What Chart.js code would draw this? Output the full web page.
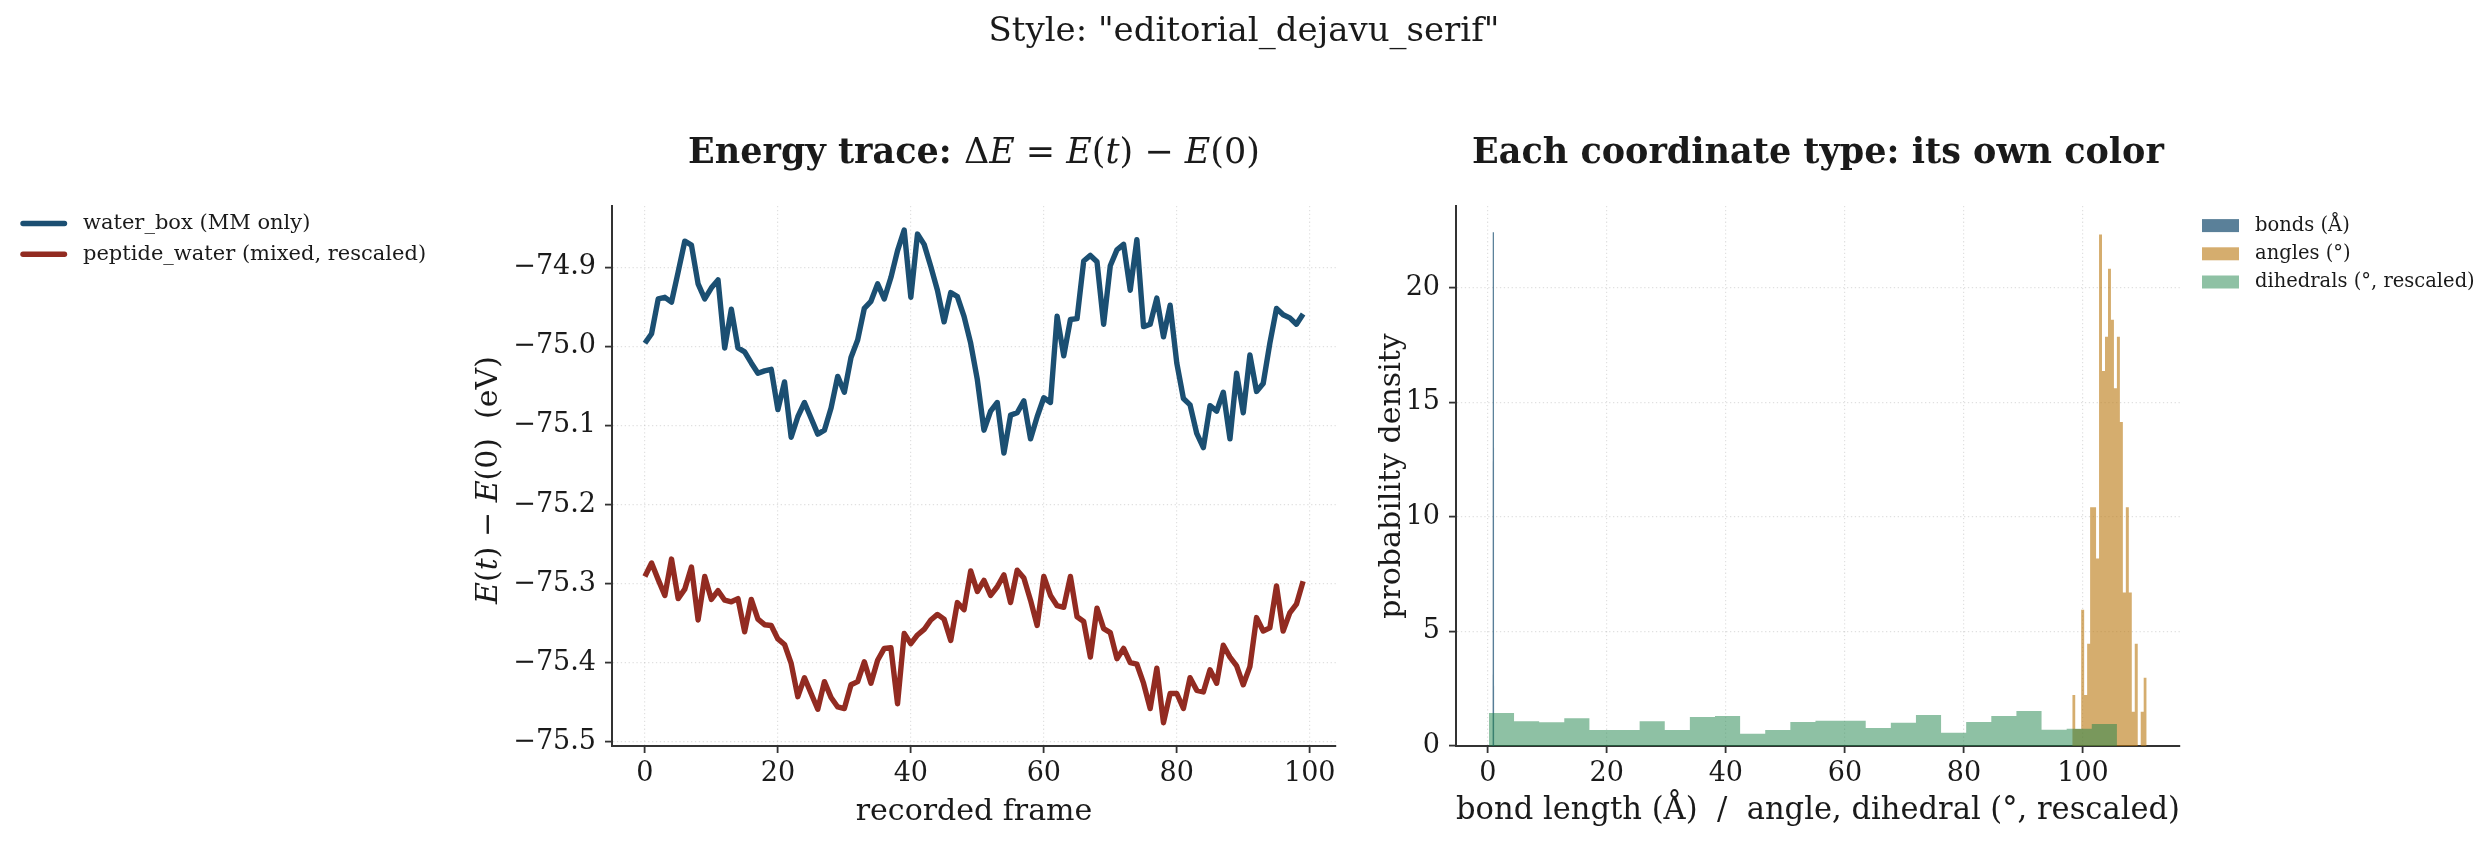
<!DOCTYPE html>
<html>
<head>
<meta charset="utf-8">
<title>editorial_dejavu_serif</title>
<script src="https://cdn.jsdelivr.net/npm/chart.js"></script>
<style>
    html, body { margin: 0; padding: 0; background: #fff; }
    #page { position: relative; width: 2488px; height: 848px; overflow: hidden; }
    #page canvas { position: absolute; left: 0; top: 0; }
    #suptitle {
        position: absolute; left: 0; top: 8px; width: 2488px; text-align: center;
        font: 34px 'DejaVu Serif', serif; line-height: 42px; color: #1a1a1a;
    }
</style>
</head>
<body>
<div id="page">
    <canvas id="energyChart" width="2488" height="848"></canvas>
    <canvas id="histChart" width="2488" height="848"></canvas>
    <div id="suptitle">Style: "editorial_dejavu_serif"</div>
</div>
<script>
// ---- data ----
const frames = Array.from({ length: 100 }, (_, i) => i);

const waterBox = [
    -74.996, -74.984, -74.940, -74.938, -74.944, -74.906, -74.867, -74.872, -74.921, -74.940,
    -74.926, -74.916, -75.002, -74.953, -75.002, -75.007, -75.021, -75.034, -75.031, -75.029,
    -75.080, -75.045, -75.115, -75.089, -75.071, -75.091, -75.111, -75.106, -75.078, -75.038,
    -75.058, -75.014, -74.992, -74.952, -74.943, -74.921, -74.940, -74.913, -74.879, -74.853,
    -74.938, -74.858, -74.871, -74.899, -74.929, -74.969, -74.932, -74.937, -74.962, -74.996,
    -75.042, -75.106, -75.082, -75.071, -75.135, -75.087, -75.084, -75.069, -75.117, -75.089,
    -75.065, -75.071, -74.962, -75.012, -74.966, -74.965, -74.892, -74.885, -74.893, -74.972,
    -74.898, -74.878, -74.871, -74.929, -74.865, -74.975, -74.972, -74.939, -74.988, -74.948,
    -75.021, -75.066, -75.074, -75.110, -75.128, -75.075, -75.082, -75.058, -75.117, -75.034,
    -75.084, -75.011, -75.057, -75.047, -74.996, -74.952, -74.960, -74.964, -74.972, -74.959
];

const peptideWater = [
    -75.291, -75.274, -75.295, -75.315, -75.269, -75.319, -75.307, -75.279, -75.346, -75.291,
    -75.320, -75.309, -75.321, -75.323, -75.319, -75.361, -75.320, -75.345, -75.352, -75.353,
    -75.370, -75.377, -75.401, -75.443, -75.419, -75.439, -75.459, -75.424, -75.444, -75.456,
    -75.458, -75.428, -75.424, -75.399, -75.426, -75.397, -75.382, -75.381, -75.452, -75.363,
    -75.376, -75.365, -75.358, -75.346, -75.339, -75.345, -75.372, -75.324, -75.333, -75.284,
    -75.310, -75.296, -75.315, -75.304, -75.289, -75.324, -75.283, -75.293, -75.321, -75.353,
    -75.291, -75.315, -75.328, -75.330, -75.291, -75.342, -75.348, -75.393, -75.331, -75.357,
    -75.362, -75.395, -75.382, -75.400, -75.402, -75.426, -75.458, -75.407, -75.476, -75.439,
    -75.439, -75.458, -75.419, -75.435, -75.437, -75.409, -75.426, -75.378, -75.393, -75.404,
    -75.428, -75.405, -75.343, -75.360, -75.356, -75.303, -75.360, -75.337, -75.326, -75.297
];

// histogram bin edges and densities
const bondEdges = [0.92, 0.93, 0.94, 0.95, 0.96, 0.97];
const bondDensity = [3.1, 12.4, 22.4, 13.0, 2.6];

const angleEdges = [98.2, 98.7, 99.2, 99.7, 100.2, 100.7, 101.2, 101.7, 102.2, 102.7, 103.2, 103.7, 104.2,
    104.7, 105.2, 105.7, 106.2, 106.7, 107.2, 107.7, 108.2, 108.7, 109.2, 109.7, 110.2, 110.7];
const angleDensity = [2.23, 0.74, 0.74, 5.95, 2.23, 4.46, 10.42, 10.42, 8.18, 22.33, 16.37, 17.86, 20.83,
    18.60, 15.62, 17.86, 14.14, 6.70, 10.42, 6.70, 1.49, 4.46, 0, 1.49, 2.98];

const dihedralEdges = [0.2, 4.42, 8.64, 12.86, 17.08, 21.3, 25.52, 29.74, 33.96, 38.18, 42.4, 46.62, 50.84,
    55.06, 59.28, 63.5, 67.72, 71.94, 76.16, 80.38, 84.6, 88.82, 93.04, 97.26, 101.48, 105.7];
const dihedralDensity = [1.44, 1.08, 1.04, 1.21, 0.70, 0.70, 1.08, 0.70, 1.27, 1.31, 0.53, 0.70, 1.05,
    1.10, 1.10, 0.79, 1.01, 1.35, 0.58, 1.05, 1.31, 1.53, 0.71, 0.75, 0.96];

// ---- style ----
const SERIF = "'DejaVu Serif', serif";
const INK = '#1a1a1a';
const SPINE = '#333333';

function fmtNum(v, digits) {
    const s = Math.abs(v).toFixed(digits);
    return v < 0 ? '\u2212' + s : s;
}

// one linear axis in the matplotlib look: left/bottom spine, dotted grid, outward ticks
function axis(opts) {
    const horizontal = opts.horizontal;
    return {
        type: 'linear',
        min: opts.min,
        max: opts.max,
        grid: {
            color: 'rgba(0,0,0,0.12)', lineWidth: 1.2,
            drawTicks: true, tickLength: 7, tickWidth: 1.8, tickColor: SPINE
        },
        border: { display: true, color: SPINE, width: 2, dash: [1.3, 2.6] },
        ticks: {
            stepSize: opts.step,
            includeBounds: false,
            autoSkip: false,
            maxRotation: 0,
            padding: horizontal ? 5 : 9,
            color: INK,
            font: { family: SERIF, size: 27 },
            callback: v => fmtNum(v, opts.digits)
        },
        title: opts.title ? {
            display: true, text: opts.title, color: INK,
            font: { family: SERIF, size: opts.titleSize || 30 },
            padding: horizontal ? { top: 0, bottom: 18 } : 0
        } : { display: false },
        afterFit: scale => {
            if (horizontal) scale.height = 102;
            else scale.width = opts.width;
        }
    };
}

// mixed-font text (bold title + math parts), centred at x/y
function richText(items) {
    return {
        id: 'richText',
        afterDraw(chart) {
            const ctx = chart.ctx;
            for (const item of items) {
                ctx.save();
                ctx.translate(item.x, item.y);
                if (item.angle) ctx.rotate(item.angle);
                ctx.textBaseline = 'middle';
                ctx.textAlign = 'left';
                ctx.fillStyle = INK;
                const widths = item.parts.map(p => { ctx.font = p[1]; return ctx.measureText(p[0]).width; });
                let x = -widths.reduce((a, b) => a + b, 0) / 2;
                item.parts.forEach((p, i) => {
                    ctx.font = p[1];
                    ctx.fillText(p[0], x, 0);
                    x += widths[i];
                });
                ctx.restore();
            }
        }
    };
}

// legend drawn outside the axes, like fig.legend / bbox_to_anchor
function sideLegend(cfg) {
    return {
        id: 'sideLegend',
        afterDraw(chart) {
            const ctx = chart.ctx;
            chart.data.datasets.forEach((ds, i) => {
                const y = cfg.y + i * cfg.step;
                ctx.save();
                if (cfg.lines) {
                    ctx.strokeStyle = ds.borderColor;
                    ctx.lineWidth = ds.borderWidth;
                    ctx.lineCap = 'round';
                    ctx.beginPath();
                    ctx.moveTo(cfg.x, y);
                    ctx.lineTo(cfg.x + cfg.swatch, y);
                    ctx.stroke();
                } else {
                    ctx.fillStyle = ds.backgroundColor;
                    ctx.fillRect(cfg.x, y - cfg.boxHeight / 2, cfg.swatch, cfg.boxHeight);
                }
                ctx.fillStyle = INK;
                ctx.font = cfg.font;
                ctx.textBaseline = 'middle';
                ctx.textAlign = 'left';
                ctx.fillText(ds.label, cfg.x + cfg.swatch + cfg.gap, y);
                ctx.restore();
            });
        }
    };
}

const f = (size, style) => `${style ? style + ' ' : ''}${size}px ${SERIF}`;

// ---- left panel: energy trace ----
new Chart(document.getElementById('energyChart'), {
    type: 'line',
    data: {
        labels: frames,
        datasets: [
            { label: 'water_box (MM only)', data: waterBox, borderColor: '#1b4f72', borderWidth: 5.4 },
            { label: 'peptide_water (mixed, rescaled)', data: peptideWater, borderColor: '#922b21', borderWidth: 5.4 }
        ]
    },
    options: {
        responsive: false,
        animation: false,
        events: [],
        layout: { padding: { top: 206, right: 1152, bottom: 0, left: 0 } },
        elements: {
            point: { radius: 0 },
            line: { tension: 0, borderJoinStyle: 'round', borderCapStyle: 'butt', fill: false }
        },
        scales: {
            x: axis({ horizontal: true, min: -4.95, max: 103.95, step: 20, digits: 0, title: 'recorded frame' }),
            y: axis({ min: -75.5054, max: -74.8225, step: 0.1, digits: 1, width: 612 })
        },
        plugins: { legend: { display: false }, tooltip: { enabled: false } }
    },
    plugins: [
        richText([
            {
                x: 974, y: 154, parts: [
                    ['Energy trace: ', f(35, 'bold')], ['\u0394', f(35)], ['E', f(35, 'italic')], [' = ', f(35)],
                    ['E', f(35, 'italic')], ['(', f(35)], ['t', f(35, 'italic')], [') \u2212 ', f(35)],
                    ['E', f(35, 'italic')], ['(0)', f(35)]
                ]
            },
            {
                x: 489, y: 480, angle: -Math.PI / 2, parts: [
                    ['E', f(30, 'italic')], ['(', f(30)], ['t', f(30, 'italic')], [') \u2212 ', f(30)],
                    ['E', f(30, 'italic')], ['(0)  (eV)', f(30)]
                ]
            }
        ]),
        sideLegend({ lines: true, x: 23, y: 223.5, step: 30.8, swatch: 41.5, gap: 18.5, font: f(21) })
    ]
});

// ---- right panel: coordinate histograms ----
function histPoints(edges, heights) {
    const pts = [{ x: edges[0], y: 0 }];
    heights.forEach((h, i) => pts.push({ x: edges[i], y: h }));
    pts.push({ x: edges[edges.length - 1], y: 0 });
    return pts;
}

new Chart(document.getElementById('histChart'), {
    type: 'line',
    data: {
        datasets: [
            {
                label: 'bonds (\u00c5)', data: histPoints(bondEdges, bondDensity), order: 3,
                backgroundColor: 'rgba(27,79,114,0.72)', borderColor: 'rgba(27,79,114,0.72)', borderWidth: 1.2
            },
            {
                label: 'angles (\u00b0)', data: histPoints(angleEdges, angleDensity), order: 2,
                backgroundColor: 'rgba(185,119,14,0.6)', borderWidth: 0
            },
            {
                label: 'dihedrals (\u00b0, rescaled)', data: histPoints(dihedralEdges, dihedralDensity), order: 1,
                backgroundColor: 'rgba(30,132,73,0.5)', borderWidth: 0
            }
        ]
    },
    options: {
        responsive: false,
        animation: false,
        events: [],
        layout: { padding: { top: 206, right: 308, bottom: 0, left: 1374 } },
        elements: {
            point: { radius: 0 },
            line: { tension: 0, stepped: true, fill: 'origin' }
        },
        scales: {
            x: axis({
                horizontal: true, min: -5.33, max: 116.3, step: 20, digits: 0, titleSize: 31,
                title: 'bond length (\u00c5)  /  angle, dihedral (\u00b0, rescaled)'
            }),
            y: axis({ min: 0, max: 23.57, step: 5, digits: 0, width: 82, title: 'probability density' })
        },
        plugins: { legend: { display: false }, tooltip: { enabled: false } }
    },
    plugins: [
        richText([
            { x: 1818, y: 154, parts: [['Each coordinate type: its own color', f(35, 'bold')]] }
        ]),
        sideLegend({ lines: false, x: 2202, y: 225.6, step: 28.2, swatch: 37, boxHeight: 13, gap: 16, font: f(19.5) })
    ]
});
</script>
</body>
</html>
